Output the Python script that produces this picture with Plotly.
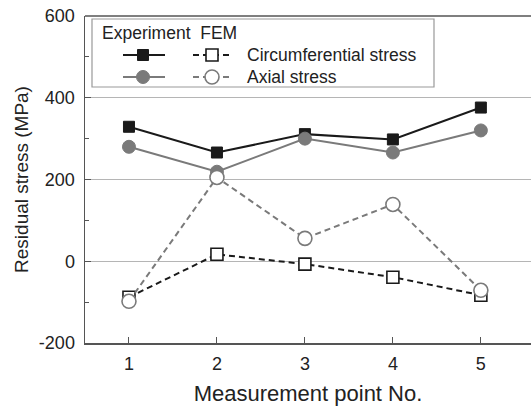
import plotly.graph_objects as go

points = [1, 2, 3, 4, 5]
exp_circ = [329, 266, 311, 298, 376]
exp_axial = [280, 219, 300, 266, 320]
fem_circ = [-88, 17, -7, -39, -83]
fem_axial = [-98, 205, 56, 139, -71]

x_ticks = [1, 2, 3, 4, 5]
y_ticks = [-200, 0, 200, 400, 600]
y_ticktext = ["-200", "0", "200", "400", "600"]

BLACK = "#1a1a1a"
GRAY = "#7a7a7a"
FONT = "Liberation Sans, Arial, sans-serif"

W, H = 531, 408
ML, MR, MT, MB = 85, 0, 16, 65
PW, PH = W - ML - MR, H - MT - MB


def px(x):
    return (x - ML) / PW


def py(y):
    return (H - MB - y) / PH


styles = {
    "exp_circ": dict(line=dict(color=BLACK, width=2),
                     marker=dict(symbol="square", size=11, color=BLACK, line=dict(color=BLACK, width=1))),
    "exp_axial": dict(line=dict(color=GRAY, width=2),
                      marker=dict(symbol="circle", size=13, color=GRAY, line=dict(color=GRAY, width=1))),
    "fem_circ": dict(line=dict(color=BLACK, width=2, dash="6px,4px"),
                     marker=dict(symbol="square", size=12, color="white", line=dict(color=BLACK, width=1.6))),
    "fem_axial": dict(line=dict(color=GRAY, width=2, dash="6px,4px"),
                      marker=dict(symbol="circle", size=14, color="white", line=dict(color=GRAY, width=1.6))),
}

fig = go.Figure()
series = [("exp_circ", exp_circ), ("exp_axial", exp_axial), ("fem_circ", fem_circ), ("fem_axial", fem_axial)]
for key, vals in series:
    st = styles[key]
    fig.add_trace(go.Scatter(x=points, y=vals, mode="lines+markers", line=st["line"],
                             marker=st["marker"], showlegend=False, cliponaxis=False))

leg_rows_y = [55, 77]
leg_keys = [("exp_circ", "fem_circ"), ("exp_axial", "fem_axial")]
leg_labels = ["Circumferential stress", "Axial stress"]
exp_col = [123, 143, 165]
fem_col = [193, 212, 231]

fig.add_shape(type="rect", xref="paper", yref="paper", x0=px(92), x1=px(434), y0=py(19), y1=py(87),
              line=dict(color="#999999", width=1.2), fillcolor="white", layer="above")
for ry, (ek, fk) in zip(leg_rows_y, leg_keys):
    for k, col in ((ek, exp_col), (fk, fem_col)):
        st = styles[k]
        fig.add_shape(type="line", xref="paper", yref="paper", x0=px(col[0]), x1=px(col[2]),
                      y0=py(ry), y1=py(ry), line=st["line"], layer="above")
        m = st["marker"]
        half = m["size"] / 2
        fig.add_shape(type="rect" if "square" in m["symbol"] else "circle",
                      xref="paper", yref="paper", xsizemode="pixel", ysizemode="pixel",
                      xanchor=px(col[1]), yanchor=py(ry), x0=-half, x1=half, y0=-half, y1=half,
                      fillcolor=m["color"], line=dict(color=m["line"]["color"], width=m["line"]["width"]),
                      layer="above")

fig.add_shape(type="line", xref="paper", yref="paper", x0=0, x1=1, y0=1, y1=1,
              line=dict(color="#555", width=1.5), layer="above")
fig.add_annotation(xref="paper", yref="paper", x=px(100), y=py(33), text="Experiment  FEM", showarrow=False,
                   xanchor="left", yanchor="middle", font=dict(family=FONT, size=17.5, color="#222"))
for ry, lab in zip(leg_rows_y, leg_labels):
    fig.add_annotation(xref="paper", yref="paper", x=px(245), y=py(ry), text=lab, showarrow=False,
                       xanchor="left", yanchor="middle", font=dict(family=FONT, size=17.5, color="#222"))

fig.update_layout(
    width=W, height=H,
    margin=dict(l=ML, r=MR, t=MT, b=MB),
    paper_bgcolor="white", plot_bgcolor="white",
    font=dict(family=FONT, color="#222"),
    xaxis=dict(range=[0.5, 5.57], tickvals=x_ticks, ticks="inside", ticklen=6, tickcolor="#555",
               showline=True, linecolor="#555", linewidth=1.5, mirror=False, showgrid=False,
               zeroline=False, tickfont=dict(size=18), ticklabelstandoff=4,
               title=dict(text="Measurement point No.", font=dict(size=22), standoff=12)),
    yaxis=dict(range=[-200, 600], tickvals=y_ticks, ticktext=y_ticktext, ticks="inside", ticklen=6,
               tickcolor="#555", showline=True, linecolor="#555", linewidth=1.5, showgrid=True,
               mirror=False, gridcolor="#b5b5b5", gridwidth=1, zeroline=False, tickfont=dict(size=18),
               ticklabelstandoff=5,
               minor=dict(dtick=100, ticks="inside", ticklen=4, tickcolor="#555", showgrid=False),
               title=dict(text="Residual stress (MPa)", font=dict(size=19), standoff=5)),
)

fig.write_html("out.html", config={"staticPlot": True, "displayModeBar": False})
